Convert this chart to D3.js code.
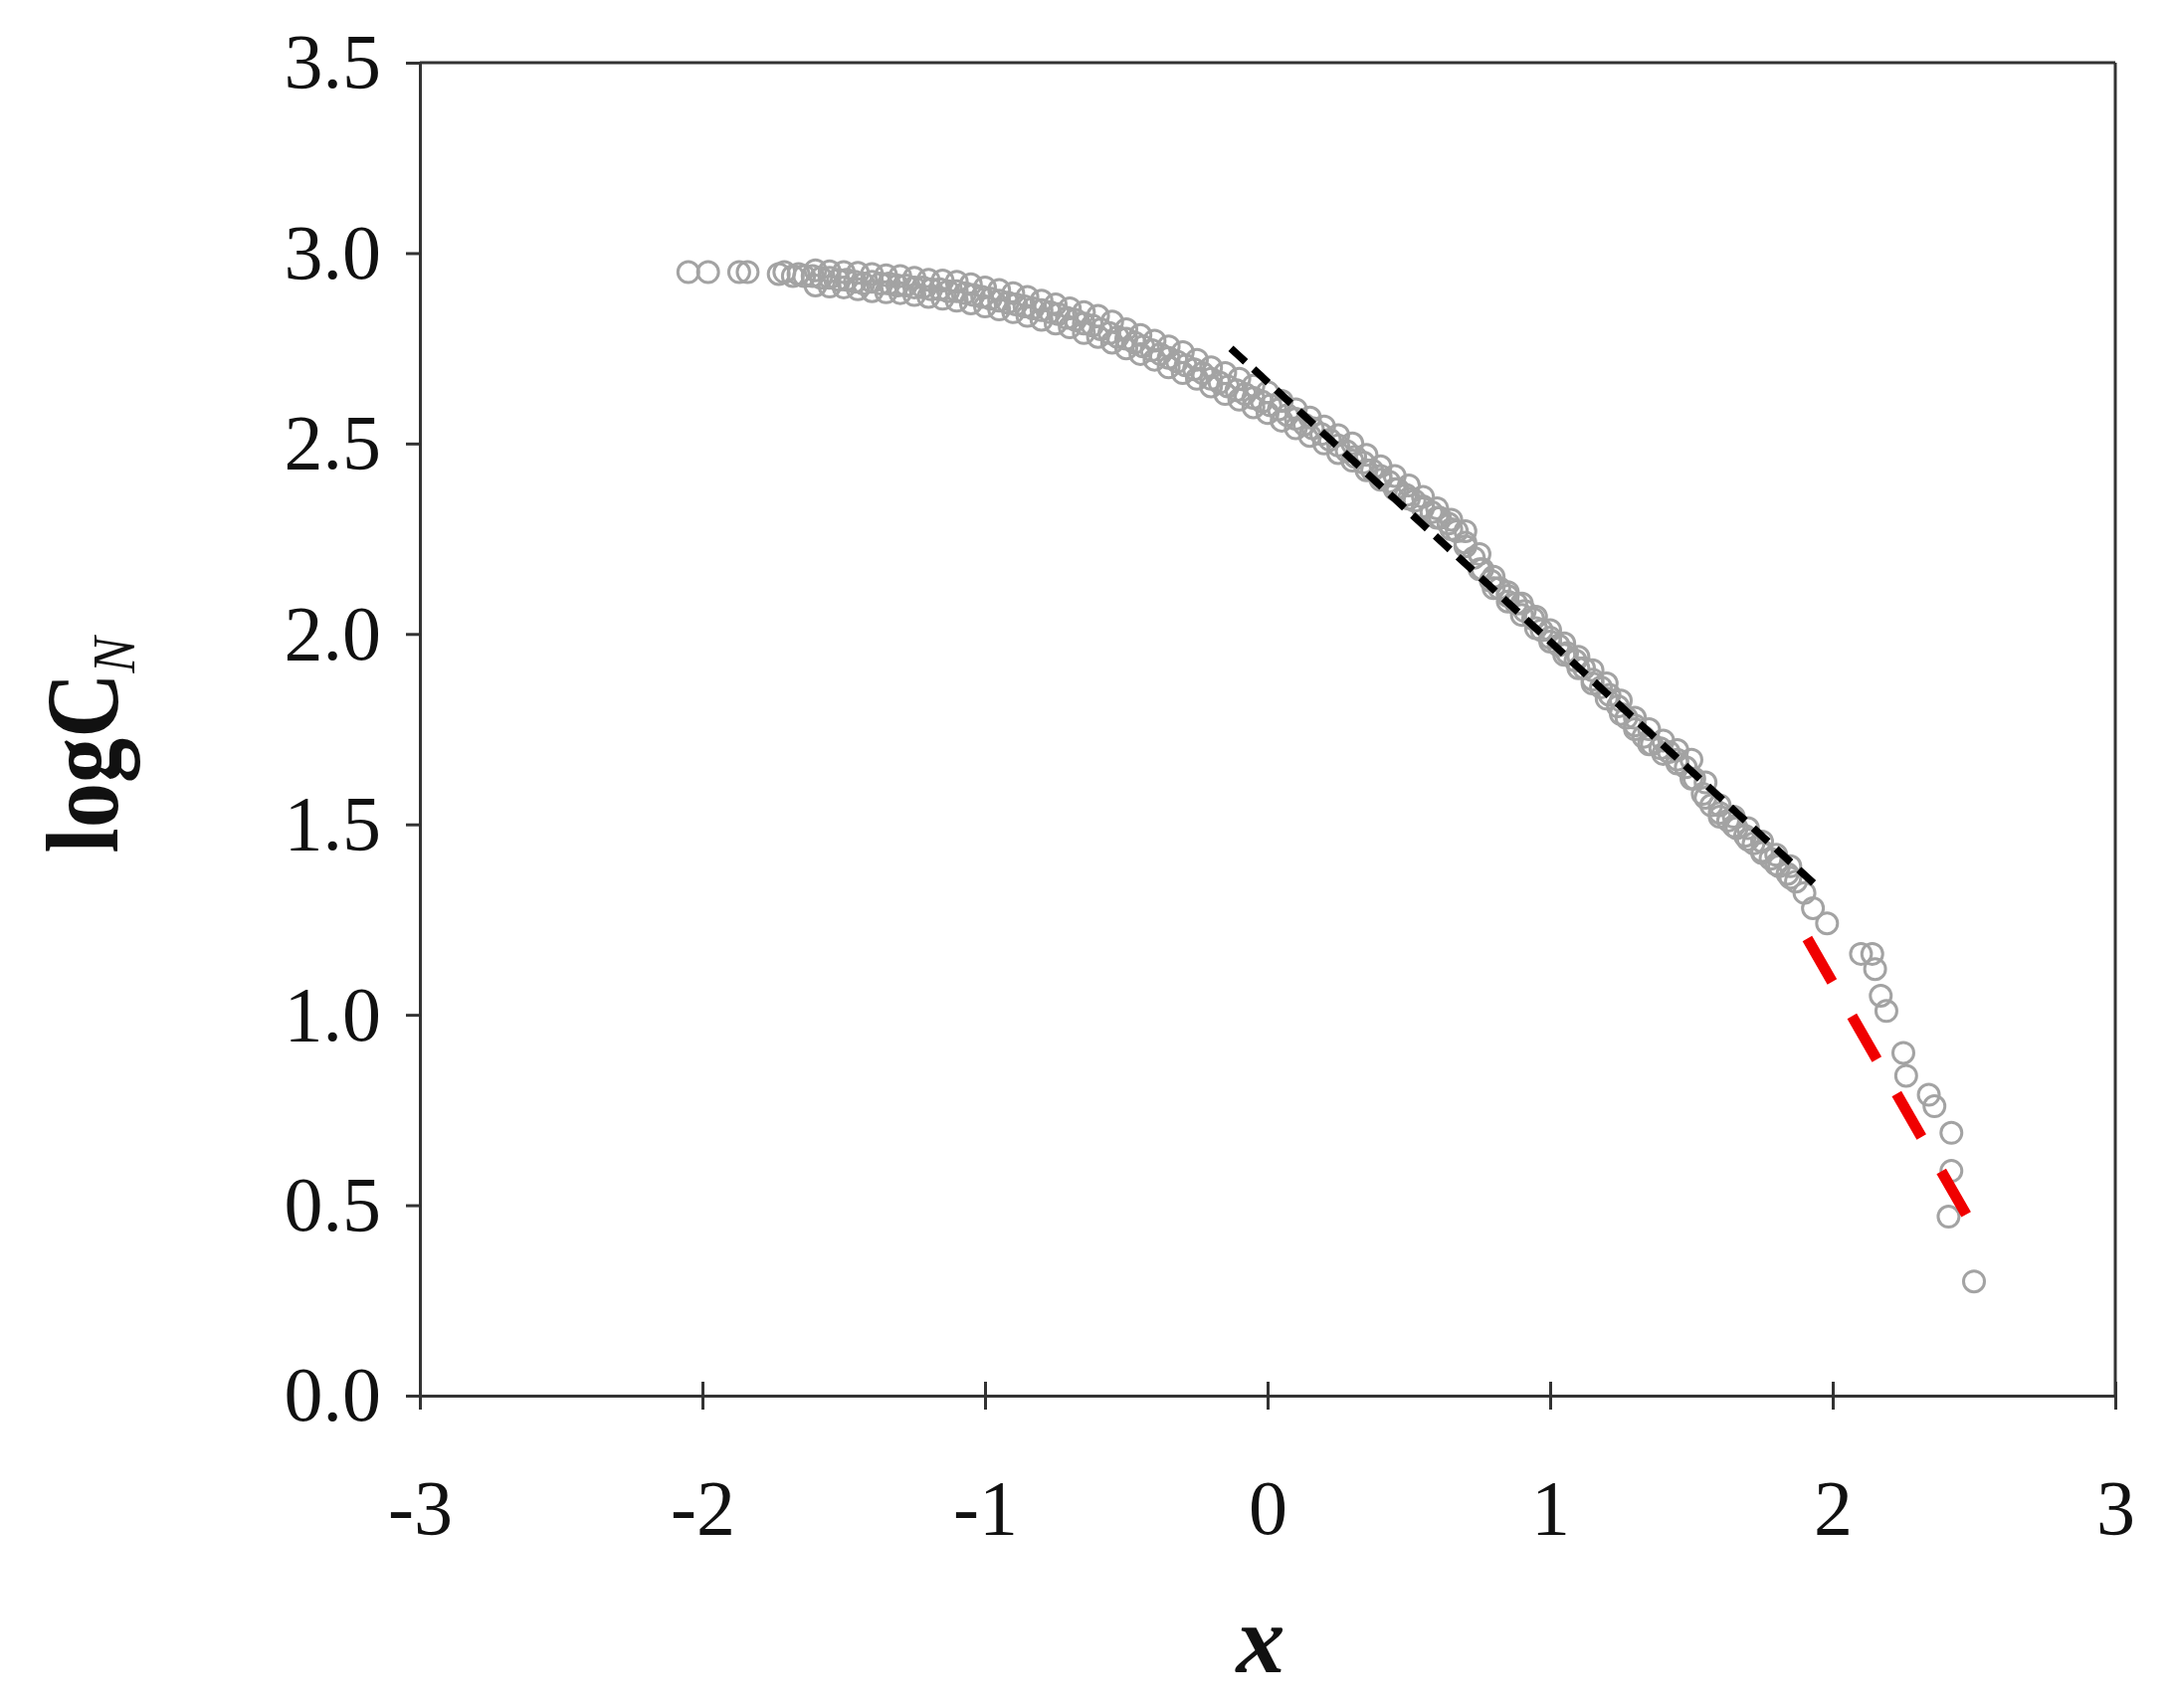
<!DOCTYPE html>
<html>
<head>
<meta charset="utf-8">
<script src="https://cdn.jsdelivr.net/npm/d3@7"></script>
<style>
  body { margin: 0; background: #fff; }
  text { font-family: "Liberation Serif", "Times New Roman", serif; }
</style>
</head>
<body>
<div id="chart"></div>
<script>
// observed points (x, logCN), read off the picture
// centre of the dense band
var mainX = [-2.05, -1.98, -1.87, -1.84, -1.73, -1.71, -1.68, -1.66,
  -1.64, -1.61, -1.58, -1.55, -1.52, -1.49, -1.46, -1.43, -1.40, -1.37, -1.34, -1.31, -1.28, -1.25, -1.22, -1.19, -1.16, -1.13, -1.10,
  -1.07, -1.04, -1.01, -0.98, -0.95, -0.92, -0.89, -0.86, -0.83, -0.80, -0.77, -0.74, -0.71, -0.68, -0.65, -0.62, -0.59, -0.56, -0.53, -0.50,
  -0.47, -0.44, -0.41, -0.38, -0.35, -0.32, -0.29, -0.26, -0.23, -0.20, -0.17, -0.14, -0.11, -0.08, -0.05, -0.02,
  0.01, 0.04, 0.07, 0.10, 0.13, 0.16, 0.19, 0.22, 0.25, 0.28, 0.31, 0.34, 0.37, 0.40, 0.43, 0.46, 0.49, 0.52, 0.55, 0.58, 0.61, 0.64, 0.67,
  0.70, 0.73, 0.76, 0.79, 0.82, 0.85, 0.88, 0.91, 0.94, 0.97, 1.00, 1.03, 1.06, 1.09, 1.12, 1.15, 1.18, 1.21, 1.24, 1.27, 1.30, 1.33, 1.36,
  1.39, 1.42, 1.45, 1.48, 1.51, 1.54, 1.57, 1.60, 1.63, 1.66, 1.69, 1.72, 1.75, 1.78, 1.81, 1.84, 1.87, 1.90];
var mainY = [2.95, 2.95, 2.95, 2.95, 2.945, 2.95, 2.94, 2.945,
  2.94, 2.94, 2.935, 2.935, 2.93, 2.93, 2.925, 2.92, 2.925, 2.92, 2.92, 2.915, 2.915, 2.91, 2.91, 2.905, 2.905, 2.90, 2.90,
  2.895, 2.89, 2.885, 2.88, 2.875, 2.87, 2.865, 2.86, 2.855, 2.85, 2.845, 2.84, 2.83, 2.825, 2.815, 2.81, 2.80, 2.79, 2.78, 2.775,
  2.765, 2.755, 2.745, 2.735, 2.725, 2.715, 2.705, 2.695, 2.685, 2.67, 2.66, 2.65, 2.64, 2.63, 2.62, 2.61,
  2.60, 2.59, 2.575, 2.565, 2.55, 2.54, 2.525, 2.51, 2.495, 2.48, 2.465, 2.45, 2.43, 2.415, 2.40, 2.38, 2.365, 2.35, 2.335, 2.32, 2.305, 2.29, 2.27,
  2.24, 2.20, 2.17, 2.14, 2.12, 2.10, 2.08, 2.06, 2.04, 2.01, 1.99, 1.97, 1.95, 1.93, 1.91, 1.88, 1.86, 1.84, 1.81, 1.78, 1.76, 1.73, 1.71,
  1.70, 1.69, 1.67, 1.65, 1.62, 1.58, 1.55, 1.53, 1.51, 1.49, 1.47, 1.45, 1.43, 1.41, 1.39, 1.37, 1.35, 1.32];

// upper edge of the band
var upperX = [-1.60, -1.55, -1.50, -1.45, -1.40, -1.35, -1.30, -1.25, -1.20, -1.15, -1.10, -1.05, -1.00, -0.95, -0.90, -0.85,
  -0.80, -0.75, -0.70, -0.65, -0.60, -0.55, -0.50, -0.45, -0.40, -0.35, -0.30, -0.25, -0.20, -0.15, -0.10, -0.05,
  0.00, 0.05, 0.10, 0.15, 0.20, 0.25, 0.30, 0.35, 0.40, 0.45, 0.50, 0.55, 0.60, 0.65, 0.70, 0.75, 0.80, 0.85,
  0.90, 0.95, 1.00, 1.05, 1.10, 1.15, 1.20, 1.25, 1.30, 1.35, 1.40, 1.45, 1.50, 1.55, 1.60, 1.65, 1.70, 1.75, 1.80, 1.85];
var upperY = [2.955, 2.952, 2.95, 2.948, 2.945, 2.942, 2.94, 2.935, 2.93, 2.928, 2.925, 2.918, 2.91, 2.903, 2.895, 2.885,
  2.875, 2.865, 2.855, 2.845, 2.835, 2.82, 2.80, 2.785, 2.77, 2.755, 2.74, 2.72, 2.70, 2.685, 2.67, 2.652,
  2.635, 2.612, 2.59, 2.568, 2.545, 2.522, 2.50, 2.47, 2.44, 2.415, 2.39, 2.36, 2.33, 2.30, 2.27, 2.21, 2.15, 2.11,
  2.08, 2.045, 2.01, 1.975, 1.94, 1.905, 1.87, 1.825, 1.78, 1.75, 1.72, 1.695, 1.67, 1.61, 1.55, 1.52, 1.49, 1.455, 1.42, 1.39];

// lower edge of the band
var lowerX = [-1.60, -1.55, -1.50, -1.45, -1.40, -1.35, -1.30, -1.25, -1.20, -1.15, -1.10, -1.05, -1.00, -0.95, -0.90, -0.85,
  -0.80, -0.75, -0.70, -0.65, -0.60, -0.55, -0.50, -0.45, -0.40, -0.35, -0.30, -0.25, -0.20, -0.15, -0.10, -0.05,
  0.00, 0.05, 0.10, 0.15, 0.20, 0.25, 0.30, 0.35, 0.40, 0.45, 0.50, 0.55, 0.60, 0.65, 0.70, 0.75, 0.80, 0.85,
  0.90, 0.95, 1.00, 1.05, 1.10, 1.15, 1.20, 1.25, 1.30, 1.35, 1.40, 1.45, 1.50, 1.55, 1.60, 1.65, 1.70, 1.75, 1.80, 1.85];
var lowerY = [2.915, 2.912, 2.91, 2.905, 2.90, 2.897, 2.895, 2.89, 2.885, 2.88, 2.875, 2.868, 2.86, 2.852, 2.845, 2.835,
  2.825, 2.815, 2.805, 2.79, 2.78, 2.765, 2.75, 2.735, 2.72, 2.70, 2.685, 2.67, 2.65, 2.63, 2.615, 2.595,
  2.58, 2.56, 2.54, 2.52, 2.50, 2.475, 2.455, 2.43, 2.405, 2.38, 2.355, 2.33, 2.305, 2.275, 2.23, 2.17, 2.12, 2.085,
  2.05, 2.015, 1.98, 1.945, 1.91, 1.87, 1.83, 1.79, 1.75, 1.71, 1.685, 1.66, 1.62, 1.57, 1.52, 1.495, 1.46, 1.425, 1.395, 1.36];

// sparse tail
var tailX = [1.93, 1.98, 2.10, 2.14, 2.15, 2.17, 2.19, 2.25, 2.26, 2.34, 2.36, 2.42, 2.42, 2.41, 2.50];
var tailY = [1.28, 1.24, 1.16, 1.16, 1.12, 1.05, 1.01, 0.90, 0.84, 0.79, 0.76, 0.69, 0.59, 0.47, 0.30];

// fitted lines: [x0, y0, x1, y1]
var blackFit = [-0.13, 2.75, 1.94, 1.34];
var redFit = [1.91, 1.20, 2.50, 0.44];

var xTicks = [-3, -2, -1, 0, 1, 2, 3];
var yTicks = [0, 0.5, 1, 1.5, 2, 2.5, 3, 3.5];

var width = 2183, height = 1717;
var margin = { top: 63, right: 57, bottom: 314, left: 422 };
var w = width - margin.left - margin.right;
var h = height - margin.top - margin.bottom;

var ptX = mainX.concat(upperX, lowerX, tailX);
var ptY = mainY.concat(upperY, lowerY, tailY);

var svg = d3.select("#chart").append("svg")
  .attr("width", width)
  .attr("height", height);

var g = svg.append("g")
  .attr("transform", "translate(" + margin.left + "," + margin.top + ")");

var x = d3.scaleLinear().domain([-3, 3]).range([0, w]);
var y = d3.scaleLinear().domain([0, 3.5]).range([h, 0]);

// frame (top and right)
g.append("line").attr("x1", 0).attr("x2", w).attr("y1", 0).attr("y2", 0)
  .attr("stroke", "#333").attr("stroke-width", 3);
g.append("line").attr("x1", w).attr("x2", w).attr("y1", 0).attr("y2", h)
  .attr("stroke", "#333").attr("stroke-width", 3);

var yAxis = g.append("g")
  .call(d3.axisLeft(y).tickValues(yTicks).tickSize(14).tickPadding(25)
    .tickFormat(d3.format(".1f")));
yAxis.select(".domain").attr("stroke", "#333").attr("stroke-width", 3);
yAxis.selectAll(".tick line").attr("stroke", "#333").attr("stroke-width", 3);
yAxis.selectAll(".tick text").attr("font-size", 78).attr("fill", "#111")
  .style("font-family", "'Liberation Serif', serif");

var xAxis = g.append("g")
  .attr("transform", "translate(0," + h + ")")
  .call(d3.axisBottom(x).tickValues(xTicks).tickSize(14).tickPadding(70)
    .tickFormat(function(d) { return String(d); }));
xAxis.select(".domain").attr("stroke", "#333").attr("stroke-width", 3);
xAxis.selectAll(".tick line").attr("y1", -14).attr("y2", 14)
  .attr("stroke", "#333").attr("stroke-width", 3);
xAxis.selectAll(".tick text").attr("font-size", 78).attr("fill", "#111")
  .style("font-family", "'Liberation Serif', serif");

// points
g.selectAll(".pt")
  .data(d3.range(ptX.length))
  .enter().append("circle")
  .attr("class", "pt")
  .attr("cx", function(i) { return x(ptX[i]); })
  .attr("cy", function(i) { return y(ptY[i]); })
  .attr("r", 10.5)
  .attr("fill", "none")
  .attr("stroke", "#a3a3a3")
  .attr("stroke-width", 3);

// fit lines
g.append("line")
  .attr("x1", x(blackFit[0])).attr("y1", y(blackFit[1]))
  .attr("x2", x(blackFit[2])).attr("y2", y(blackFit[3]))
  .attr("stroke", "#000").attr("stroke-width", 7.5)
  .attr("stroke-dasharray", "20,11");

g.append("line")
  .attr("x1", x(redFit[0])).attr("y1", y(redFit[1]))
  .attr("x2", x(redFit[2])).attr("y2", y(redFit[3]))
  .attr("stroke", "#f00000").attr("stroke-width", 11)
  .attr("stroke-dasharray", "50,40");

// axis titles
svg.append("text")
  .attr("transform", "translate(" + 118 + "," + 749 + ") rotate(-90) scale(0.87,1)")
  .attr("text-anchor", "middle")
  .attr("font-size", 104)
  .attr("font-weight", "bold")
  .attr("fill", "#111")
  .text("logC")
  .append("tspan")
  .attr("font-size", 62)
  .attr("font-style", "italic")
  .attr("font-weight", "normal")
  .attr("dy", 17)
  .text("N");

svg.append("text")
  .attr("x", margin.left + x(0) - 7)
  .attr("y", 1681)
  .attr("text-anchor", "middle")
  .attr("font-size", 98)
  .attr("font-weight", "bold")
  .attr("font-style", "italic")
  .attr("fill", "#111")
  .text("x");
</script>
</body>
</html>
